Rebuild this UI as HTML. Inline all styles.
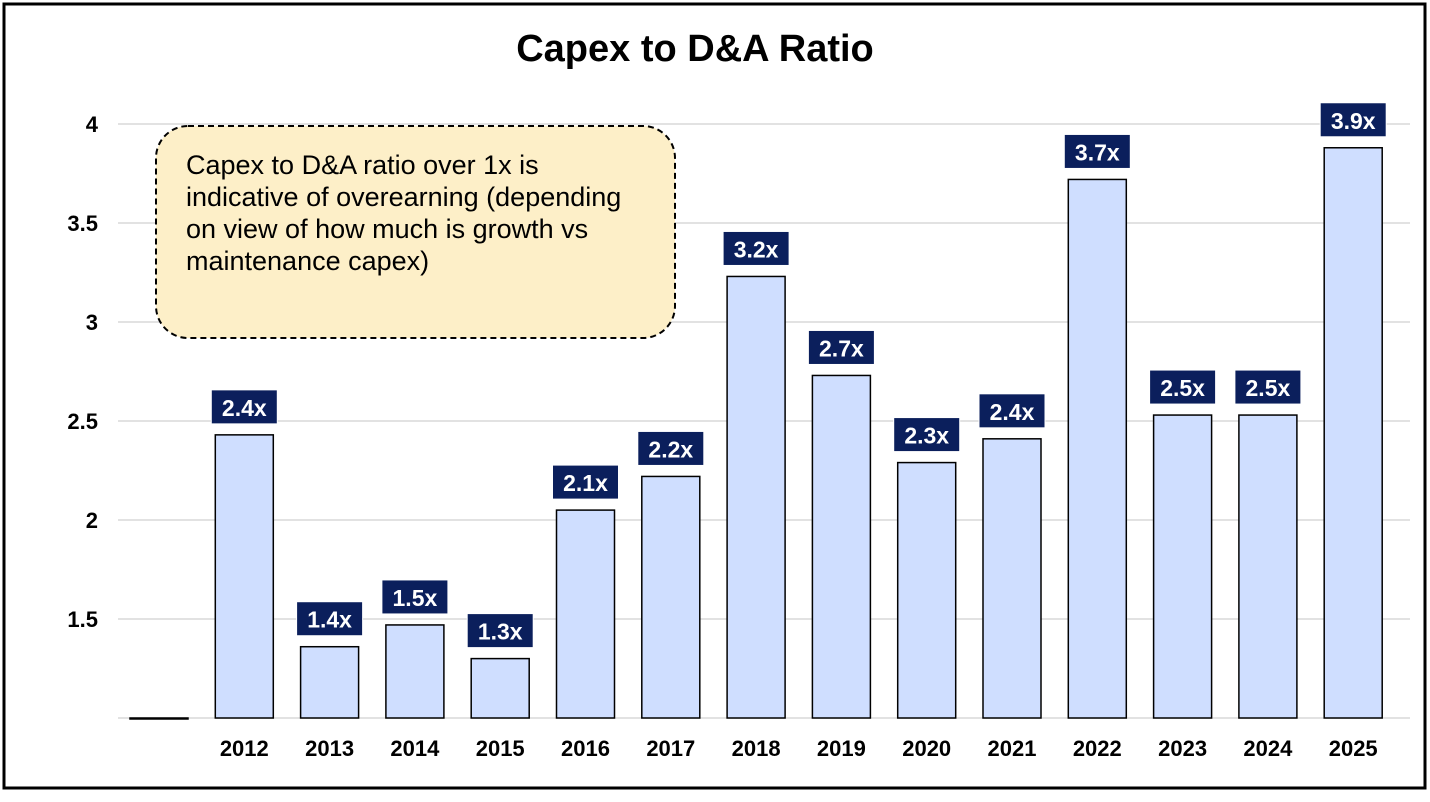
<!DOCTYPE html>
<html><head><meta charset="utf-8"><style>
html,body{margin:0;padding:0;background:#fff;}
body{width:1430px;height:797px;overflow:hidden;font-family:"Liberation Sans",Arial,sans-serif;}
</style></head><body>
<svg id="chart" width="1430" height="797" xmlns="http://www.w3.org/2000/svg">
<rect x="4" y="4" width="1421" height="784" fill="#fff" stroke="#000" stroke-width="3"/>
<text x="695" y="61" text-anchor="middle" font-size="38" font-weight="bold" fill="#000">Capex to D&amp;A Ratio</text>
<g id="grid"></g><g id="bars"></g>
<g>
<rect x="156" y="126" width="519" height="212" rx="32" fill="#fdefc8" stroke="#000" stroke-width="2" stroke-dasharray="6,4"/>
<text x="186" y="173" font-size="27" fill="#000" textLength="0">
<tspan x="186" y="174">Capex to D&amp;A ratio over 1x is</tspan>
<tspan x="186" y="206">indicative of overearning (depending</tspan>
<tspan x="186" y="238">on view of how much is growth vs</tspan>
<tspan x="186" y="270">maintenance capex)</tspan></text>
</g>
</svg>
<script>
const categories=["","2012","2013","2014","2015","2016","2017","2018","2019","2020","2021","2022","2023","2024","2025"];
const values=[1.0,2.43,1.36,1.47,1.3,2.05,2.22,3.23,2.73,2.29,2.41,3.72,2.53,2.53,3.88];
const valueLabels=["","2.4x","1.4x","1.5x","1.3x","2.1x","2.2x","3.2x","2.7x","2.3x","2.4x","3.7x","2.5x","2.5x","3.9x"];
const yTicks=[1.5,2,2.5,3,3.5,4];
const ns="http://www.w3.org/2000/svg";
const y=v=>718-(v-1)*198;
const xc=i=>159+i*85.3;
const grid=document.getElementById('grid'),bars=document.getElementById('bars');
function mk(t,a,p){const e=document.createElementNS(ns,t);for(const k in a)e.setAttribute(k,a[k]);p.appendChild(e);return e;}
yTicks.forEach(t=>{
 const l=mk('line',{x1:118,x2:1410,y1:y(t),y2:y(t),stroke:'#d9d9d9','stroke-width':1.5},grid);
 
 
 const tx=mk('text',{x:98,y:y(t)+8,'text-anchor':'end','font-size':22,'font-weight':'bold',fill:'#000'},grid);
 tx.textContent=String(t);
 
 
});
const base=mk('line',{x1:118,x2:1410,y1:718,y2:718,stroke:'#d9d9d9','stroke-width':1.5},grid);


values.forEach((v,i)=>{
 const cx=xc(i);
 const r=mk('rect',{x:cx-29,y:y(v),width:58,height:Math.max(718-y(v),1),fill:'#cfdeff',stroke:'#000','stroke-width':1.5},bars);
 
 
 if(categories[i]){
  const t=mk('text',{x:cx,y:756,'text-anchor':'middle','font-size':22,'font-weight':'bold',fill:'#000'},bars);
  t.textContent=categories[i];
  
  
 }
 if(valueLabels[i]){
  const by=y(v)-45;
  const b=mk('rect',{x:cx-33,y:by,width:66,height:34,fill:'#0b1f5c',stroke:'#fff','stroke-width':1},bars);
  
  
  const t=mk('text',{x:cx,y:by+26,'text-anchor':'middle','font-size':23,'font-weight':'bold',fill:'#fff'},bars);
  t.textContent=valueLabels[i];
  
  
 }
});
</script>
</body></html>
